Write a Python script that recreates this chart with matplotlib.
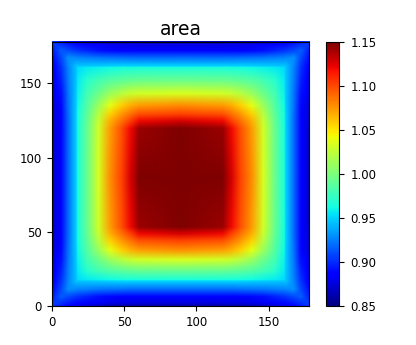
import numpy as np
import matplotlib
matplotlib.use("Agg")
import matplotlib.pyplot as plt
from matplotlib.image import NonUniformImage

size = 178
# node distances (grid cells) from each edge, ending at the face centre
x_dist = [0, 2, 6, 11, 16.5, 17.5, 24, 32, 40, 48, 54, 60, 89]
y_dist_bottom = [0, 2, 6, 11, 16.5, 17.5, 23.5, 31, 37.5, 44, 48.5, 53, 86]
y_dist_top = [0, 2, 6, 11, 16.5, 17.5, 26, 35, 43, 49, 53.5, 58.5, 92]

# area values in one quadrant (rows: distance from bottom/top, cols: distance from left/right)
quad = [
    [0.905, 0.902, 0.896, 0.889, 0.882, 0.881, 0.875, 0.870, 0.866, 0.864, 0.863, 0.862, 0.862],
    [0.902, 0.906, 0.902, 0.896, 0.891, 0.891, 0.886, 0.882, 0.879, 0.877, 0.877, 0.876, 0.876],
    [0.896, 0.902, 0.915, 0.909, 0.903, 0.902, 0.897, 0.892, 0.889, 0.887, 0.886, 0.885, 0.885],
    [0.889, 0.896, 0.909, 0.930, 0.928, 0.927, 0.925, 0.923, 0.922, 0.921, 0.920, 0.920, 0.920],
    [0.882, 0.891, 0.903, 0.928, 0.945, 0.945, 0.947, 0.948, 0.949, 0.950, 0.950, 0.950, 0.950],
    [0.881, 0.891, 0.902, 0.927, 0.945, 0.953, 0.957, 0.960, 0.962, 0.964, 0.964, 0.965, 0.965],
    [0.875, 0.886, 0.897, 0.925, 0.947, 0.957, 0.970, 0.979, 0.985, 0.989, 0.991, 0.992, 0.993],
    [0.870, 0.882, 0.892, 0.923, 0.948, 0.960, 0.979, 0.995, 1.011, 1.022, 1.028, 1.031, 1.033],
    [0.866, 0.879, 0.889, 0.922, 0.949, 0.962, 0.985, 1.011, 1.038, 1.057, 1.067, 1.073, 1.078],
    [0.864, 0.877, 0.887, 0.921, 0.950, 0.964, 0.989, 1.022, 1.057, 1.075, 1.087, 1.098, 1.103],
    [0.863, 0.877, 0.886, 0.920, 0.950, 0.964, 0.991, 1.028, 1.067, 1.087, 1.102, 1.120, 1.127],
    [0.862, 0.876, 0.885, 0.920, 0.950, 0.965, 0.992, 1.031, 1.073, 1.098, 1.120, 1.142, 1.160],
    [0.862, 0.876, 0.885, 0.920, 0.950, 0.965, 0.993, 1.033, 1.078, 1.103, 1.127, 1.160, 1.250],
]

vmin, vmax = 0.85, 1.15
cbar_ticks = [0.85, 0.90, 0.95, 1.00, 1.05, 1.10, 1.15]
axis_ticks = [0, 50, 100, 150]

# field mirrors about the face centre
xd = np.array(x_dist, dtype=float)
xs = np.concatenate([xd, size - xd[-2::-1]])
ys = np.concatenate([np.array(y_dist_bottom, dtype=float),
                     size - np.array(y_dist_top, dtype=float)[-2::-1]])
q = np.array(quad)
half = np.concatenate([q, q[:, -2::-1]], axis=1)
field = np.concatenate([half, half[-2::-1, :]], axis=0)

fig = plt.figure(figsize=(4.16, 3.45), dpi=100)
ax = fig.add_axes([51.7 / 416, 39 / 345, 257.6 / 416, 264.3 / 345])
cax = fig.add_axes([325.7 / 416, 39 / 345, 13.6 / 416, 264.3 / 345])

im = NonUniformImage(ax, interpolation='bilinear', cmap='jet',
                     extent=(0, size, 0, size))
im.set_data(xs, ys, field)
im.set_clim(vmin, vmax)
ax.add_image(im)
ax.set_xlim(0, size)
ax.set_ylim(0, size)
ax.set_xticks(axis_ticks)
ax.set_yticks(axis_ticks)
ax.tick_params(labelsize=8.5, length=3.5)
ax.set_title('area', fontsize=13.5, pad=4.5)

cb = fig.colorbar(im, cax=cax, ticks=cbar_ticks)
cb.ax.set_yticklabels(['%.2f' % t for t in cbar_ticks])
cb.ax.tick_params(labelsize=8.5, length=3.5, pad=4.5)

fig.savefig('out.png', dpi=100)
